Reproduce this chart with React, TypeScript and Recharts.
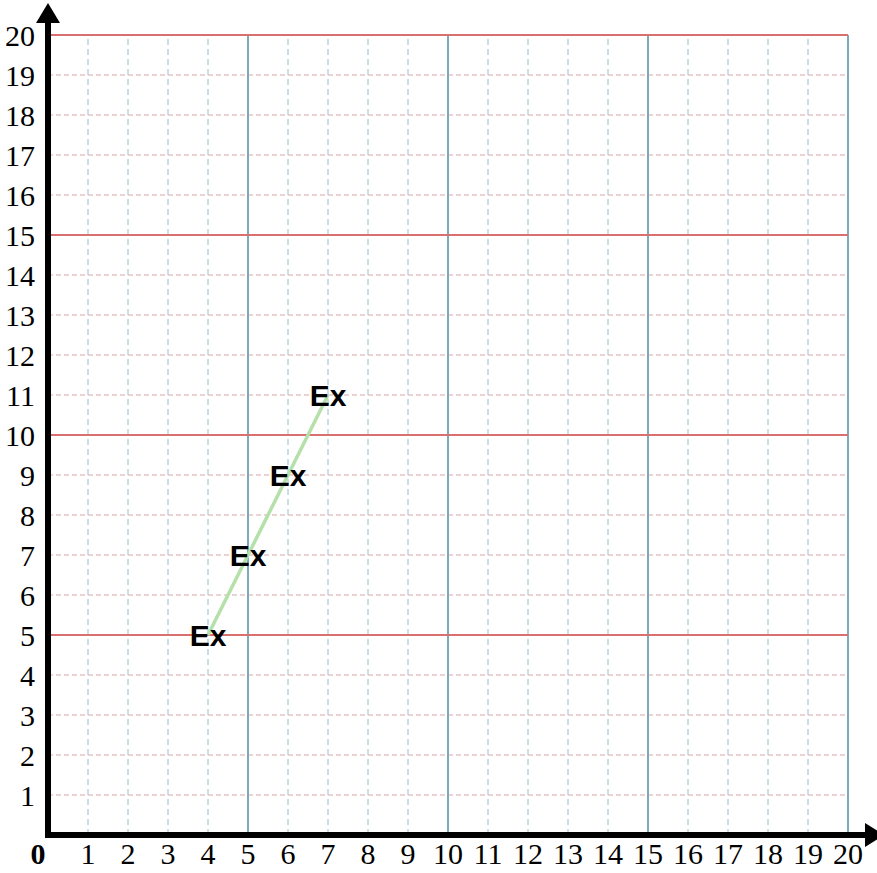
import { LineChart, Line, XAxis, YAxis, ReferenceLine, LabelList } from 'recharts'

// the plotted points
const xValues = [4, 5, 6, 7]
const yValues = [5, 7, 9, 11]
const pointLabels = ['Ex', 'Ex', 'Ex', 'Ex']

// axis ticks and grid steps
const xTicks = [0, 1, 2, 3, 4, 5, 6, 7, 8, 9, 10, 11, 12, 13, 14, 15, 16, 17, 18, 19, 20]
const yTicks = [1, 2, 3, 4, 5, 6, 7, 8, 9, 10, 11, 12, 13, 14, 15, 16, 17, 18, 19, 20]
const minorSteps = [1, 2, 3, 4, 6, 7, 8, 9, 11, 12, 13, 14, 16, 17, 18, 19]
const majorSteps = [5, 10, 15, 20]

const data = xValues.map((x, i) => ({ x, y: yValues[i], label: pointLabels[i] }))

const serif = '"Liberation Serif", "Times New Roman", serif'

const XTick = ({ x, y, payload }: any) => {
  const zero = payload.value === 0
  return (
    <text
      x={zero ? x - 10 : x}
      y={y + 29}
      textAnchor="middle"
      fontFamily={serif}
      fontSize={30}
      fontWeight={zero ? 'bold' : 'normal'}
      fill="#000"
    >
      {payload.value}
    </text>
  )
}

const YTick = ({ x, y, payload }: any) => (
  <text x={x - 13} y={y + 11} textAnchor="end" fontFamily={serif} fontSize={30} fill="#000">
    {payload.value}
  </text>
)

const PointLabel = ({ x, y, value }: any) => (
  <text
    x={x}
    y={y}
    textAnchor="middle"
    dominantBaseline="central"
    fontFamily='"Liberation Sans", Arial, sans-serif'
    fontWeight="bold"
    fontSize={30}
    fill="#000"
  >
    {value}
  </text>
)

const XArrow = ({ x1, y1, x2 }: any) => (
  <g>
    <line x1={x1 - 3} y1={y1} x2={x2 + 17} y2={y1} stroke="#000" strokeWidth={6} />
    <polygon points={`${x2 + 17},${y1 - 12} ${x2 + 17},${y1 + 12} ${x2 + 36},${y1}`} fill="#000" />
  </g>
)

const YArrow = ({ x1, y1, y2 }: any) => (
  <g>
    <line x1={x1} y1={y1 + 3} x2={x1} y2={y2 - 12} stroke="#000" strokeWidth={6} />
    <polygon points={`${x1 - 12},${y2 - 12} ${x1 + 12},${y2 - 12} ${x1},${y2 - 32}`} fill="#000" />
  </g>
)

export default function App() {
  return (
    <div style={{ position: 'absolute', left: 0, top: 0, width: 877, height: 873, overflow: 'hidden', background: '#fff' }}>
      <style>{'body{margin:0}'}</style>
      <LineChart width={877} height={873} data={data} margin={{ top: 35, right: 29, left: 0, bottom: 0 }}>
        <XAxis
          type="number"
          dataKey="x"
          domain={[0, 20]}
          ticks={xTicks}
          interval={0}
          height={38}
          axisLine={false}
          tickLine={false}
          tickSize={0}
          tickMargin={0}
          tick={<XTick />}
        />
        <YAxis
          type="number"
          domain={[0, 20]}
          ticks={yTicks}
          interval={0}
          width={48}
          axisLine={false}
          tickLine={false}
          tickSize={0}
          tickMargin={0}
          tick={<YTick />}
        />
        {minorSteps.map((v) => (
          <ReferenceLine key={`hm${v}`} y={v} stroke="#e6c3c3" strokeWidth={1.5} strokeDasharray="5 3" />
        ))}
        {minorSteps.map((v) => (
          <ReferenceLine key={`vm${v}`} x={v} stroke="#b9d4dd" strokeWidth={1.5} strokeDasharray="6 4" />
        ))}
        {majorSteps.map((v) => (
          <ReferenceLine key={`vM${v}`} x={v} stroke="#7aaabb" strokeWidth={2} />
        ))}
        {majorSteps.map((v) => (
          <ReferenceLine key={`hM${v}`} y={v} stroke="#d9706f" strokeWidth={2} />
        ))}
        <Line
          type="linear"
          dataKey="y"
          stroke="#b6e0a9"
          strokeWidth={3.5}
          dot={false}
          activeDot={false}
          isAnimationActive={false}
        >
          <LabelList dataKey="label" content={<PointLabel />} />
        </Line>
        <ReferenceLine segment={[{ x: 0, y: 0 }, { x: 20, y: 0 }]} ifOverflow="visible" shape={(p: any) => <XArrow {...p} />} />
        <ReferenceLine segment={[{ x: 0, y: 0 }, { x: 0, y: 20 }]} ifOverflow="visible" shape={(p: any) => <YArrow {...p} />} />
      </LineChart>
    </div>
  )
}
